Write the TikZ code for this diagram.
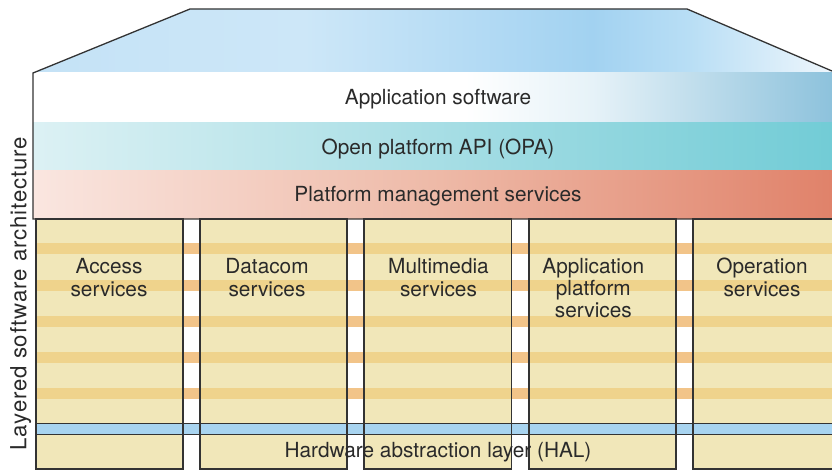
\documentclass[tikz,border=0pt]{standalone}
\usepackage{fontspec}
\setmainfont{TeX Gyre Heros}
\newfontfamily\vertfont[LetterSpace=4]{TeX Gyre Heros}
\definecolor{roofA}{HTML}{C4E2F6}
\definecolor{roofB}{HTML}{CDE7F8}
\definecolor{roofC}{HTML}{A2D2F1}
\definecolor{roofD}{HTML}{B8DEF5}
\definecolor{roofE}{HTML}{EEF6FC}
\definecolor{appB}{HTML}{E6F2F8}
\definecolor{appC}{HTML}{8DC2DC}
\definecolor{opaA}{HTML}{DCF1F4}
\definecolor{opaB}{HTML}{A8DEE5}
\definecolor{opaC}{HTML}{72CCD6}
\definecolor{pmsA}{HTML}{FAE6E0}
\definecolor{pmsB}{HTML}{EEBAA8}
\definecolor{pmsC}{HTML}{E0826A}
\definecolor{colbase}{HTML}{F1E7B9}
\definecolor{colstripe}{HTML}{EFD38C}
\definecolor{gapstripe}{HTML}{F2C489}
\definecolor{halblue}{HTML}{A8D4F0}
\definecolor{edge}{HTML}{333333}
\definecolor{txt}{HTML}{2A2A2A}
\pgfdeclarehorizontalshading{roofsh}{100bp}{color(0bp)=(roofA); color(25bp)=(roofA); color(42bp)=(roofB); color(60bp)=(roofC); color(66bp)=(roofD); color(75bp)=(roofE); color(100bp)=(roofE)}
\pgfdeclarehorizontalshading{appsh}{100bp}{color(0bp)=(white); color(25bp)=(white); color(52bp)=(white); color(60bp)=(appB); color(75bp)=(appC); color(100bp)=(appC)}
\pgfdeclarehorizontalshading{opash}{100bp}{color(0bp)=(opaA); color(25bp)=(opaA); color(50bp)=(opaB); color(75bp)=(opaC); color(100bp)=(opaC)}
\pgfdeclarehorizontalshading{pmssh}{100bp}{color(0bp)=(pmsA); color(25bp)=(pmsA); color(50bp)=(pmsB); color(75bp)=(pmsC); color(100bp)=(pmsC)}
\tikzset{
  lbl/.style={font=\fontsize{20.8}{23.5}\selectfont, text=txt, inner sep=0pt, align=center},
  colbox/.style={draw=edge, line width=1.3pt},
  edgeline/.style={draw=edge, line width=1.3pt},
}
\begin{document}
\begin{tikzpicture}[x=1pt,y=-1pt]
\useasboundingbox (0,0) rectangle (832,470);
% roof
\shade[shading=roofsh] (33,73) -- (190,9) -- (687,9) -- (832,71) -- (832,73) -- cycle;
% bands
\shade[shading=appsh] (33,73) rectangle (832,123);
\shade[shading=opash] (33,123) rectangle (832,171);
\shade[shading=pmssh] (33,171) rectangle (832,219);
% columns base
\foreach \x in {36,200,364,529,693} {
  \fill[colbase] (\x,219) rectangle ++(147,250);
}
% stripes
\foreach \y in {243.5,279.5,315.5,351.5,387.5} {
  \fill[gapstripe] (36,\y) rectangle (832,\y+11);
  \foreach \x in {36,200,364,529,693} {
    \fill[colstripe] (\x,\y) rectangle ++(147,11);
  }
}
% HAL blue band
\fill[halblue] (36,423.3) rectangle (832,434.3);
\draw[edgeline] (36,423.3) -- (832,423.3);
\draw[edgeline] (36,434.3) -- (832,434.3);
% column outlines
\draw[colbox] (36,219) rectangle (183,469);
\draw[colbox] (200,219) rectangle (347,469);
\draw[colbox] (364,219) rectangle (511.5,469);
\draw[colbox] (529,219) rectangle (676,469);
\draw[colbox] (693,219) rectangle (840,469);
% frame outlines
\draw[edgeline, line join=miter] (832,71) -- (687,9) -- (190,9) -- (33,73) -- (33,219) -- (832,219);
% band labels
\node[lbl, anchor=base] (app) at (438,105) {Application software};
\node[lbl, anchor=base] (opa) at (438,155) {Open platform API (OPA)};
\node[lbl, anchor=base] (pms) at (438,201.5) {Platform management services};
% column labels (anchor=base is the last line's baseline)
\node[lbl, anchor=base] (acc) at (109,296.5) {Access\\services};
\node[lbl, anchor=base] (dat) at (267,296.5) {Datacom\\services};
\node[lbl, anchor=base] (mul) at (438.5,296.5) {Multimedia\\services};
\node[lbl, anchor=base, font=\fontsize{20.8}{22.2}\selectfont] (apl) at (593.3,317.4) {Application\\platform\\services};
\node[lbl, anchor=base] (ope) at (762,296.5) {Operation\\services};
% HAL label
\node[lbl, anchor=base] (hal) at (438,457.7) {Hardware abstraction layer (HAL)};
% vertical label
\node[lbl, font=\fontsize{22.2}{24}\vertfont, rotate=90, anchor=base] (lsa) at (26.3,293.5) {Layered software architecture};
\end{tikzpicture}
\end{document}
